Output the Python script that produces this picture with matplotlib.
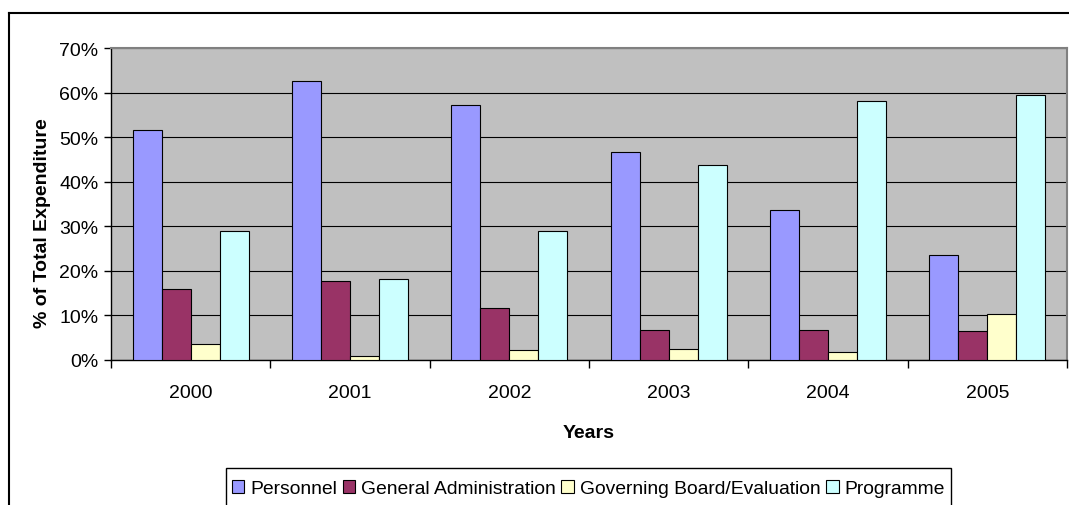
import matplotlib.pyplot as plt
import matplotlib.lines as mlines
import matplotlib.patches as mpatches
import numpy as np

years = ['2000', '2001', '2002', '2003', '2004', '2005']
personnel = [51.7, 62.7, 57.1, 46.7, 33.6, 23.6]
general_admin = [16.0, 17.8, 11.7, 6.8, 6.8, 6.4]
governing_board = [3.5, 1.0, 2.2, 2.5, 1.8, 10.4]
programme = [29.0, 18.2, 29.0, 43.8, 58.1, 59.5]

series_names = ['Personnel', 'General Administration', 'Governing Board/Evaluation', 'Programme']
colors = ['#9999FF', '#993366', '#FFFFCC', '#CCFFFF']

plt.rcParams['font.family'] = ['Liberation Sans', 'DejaVu Sans']

W, H = 1069, 506
fig = plt.figure(figsize=(W / 100, H / 100), dpi=100)
ax = fig.add_axes([111 / W, 1 - 361 / H, (1067 - 111) / W, 312 / H])

# outer chart border (only top/left visible in the reference)
fig.add_artist(mlines.Line2D([9 / W, 1.0], [1 - 14 / H, 1 - 14 / H], color='black', lw=1.5))
fig.add_artist(mlines.Line2D([9 / W, 9 / W], [0.0, 1 - 14 / H], color='black', lw=1.5))

x = np.arange(len(years))
bw = 1 / 5.5
for j, (vals, name) in enumerate(zip([personnel, general_admin, governing_board, programme], series_names)):
    ax.bar(x + (j - 1.5) * bw, vals, width=bw, color=colors[j], edgecolor='black', linewidth=0.8, label=name, zorder=3)

ax.set_facecolor('#C0C0C0')
ax.set_xlim(-0.5, len(years) - 0.5)
ax.set_ylim(0, 70)
ax.set_yticks(range(0, 71, 10))
ax.set_yticklabels([f'{v}%' for v in range(0, 71, 10)])
ax.yaxis.grid(True, color='black', lw=0.8, zorder=1)
ax.set_axisbelow(True)

ax.set_xticks(x)
ax.set_xticklabels(years)
ax.set_xticks(np.arange(-0.5, len(years)), minor=True)
ax.tick_params(axis='x', which='major', length=0, pad=17, labelsize=14)
ax.tick_params(axis='x', which='minor', length=6, width=1, direction='out')
ax.tick_params(axis='y', length=5, width=1, direction='out', pad=4, labelsize=14)

for s in ['top', 'right']:
    ax.spines[s].set_color('#808080')
    ax.spines[s].set_linewidth(1.5)
for s in ['left', 'bottom']:
    ax.spines[s].set_color('black')
    ax.spines[s].set_linewidth(1)

ax.set_ylabel('% of Total Expenditure', fontsize=14, fontweight='bold')
ax.yaxis.set_label_coords((51 - 111) / 956, (361 - 223) / 312)
ax.set_xlabel('Years', fontsize=14, fontweight='bold')
ax.xaxis.set_label_coords(0.5, (361 - 425) / 312)

# legend without frame, frame drawn separately so the box top sits higher than the text
leg = fig.legend(loc='upper left', bbox_to_anchor=(226 / W, 1 - 475 / H), ncol=4, fontsize=13.85,
                 handlelength=0.65, handleheight=0.65, handletextpad=0.3, columnspacing=0.3,
                 borderpad=0.3, borderaxespad=0, frameon=False)
fig.canvas.draw()
bb = leg.get_window_extent()
fig.add_artist(mpatches.Rectangle((226 / W, -0.05), (bb.x1 - 226) / W, 1 - 469 / H + 0.05,
                                  transform=fig.transFigure, fill=False, edgecolor='black', lw=1))

fig.savefig('out.png', dpi=100)
